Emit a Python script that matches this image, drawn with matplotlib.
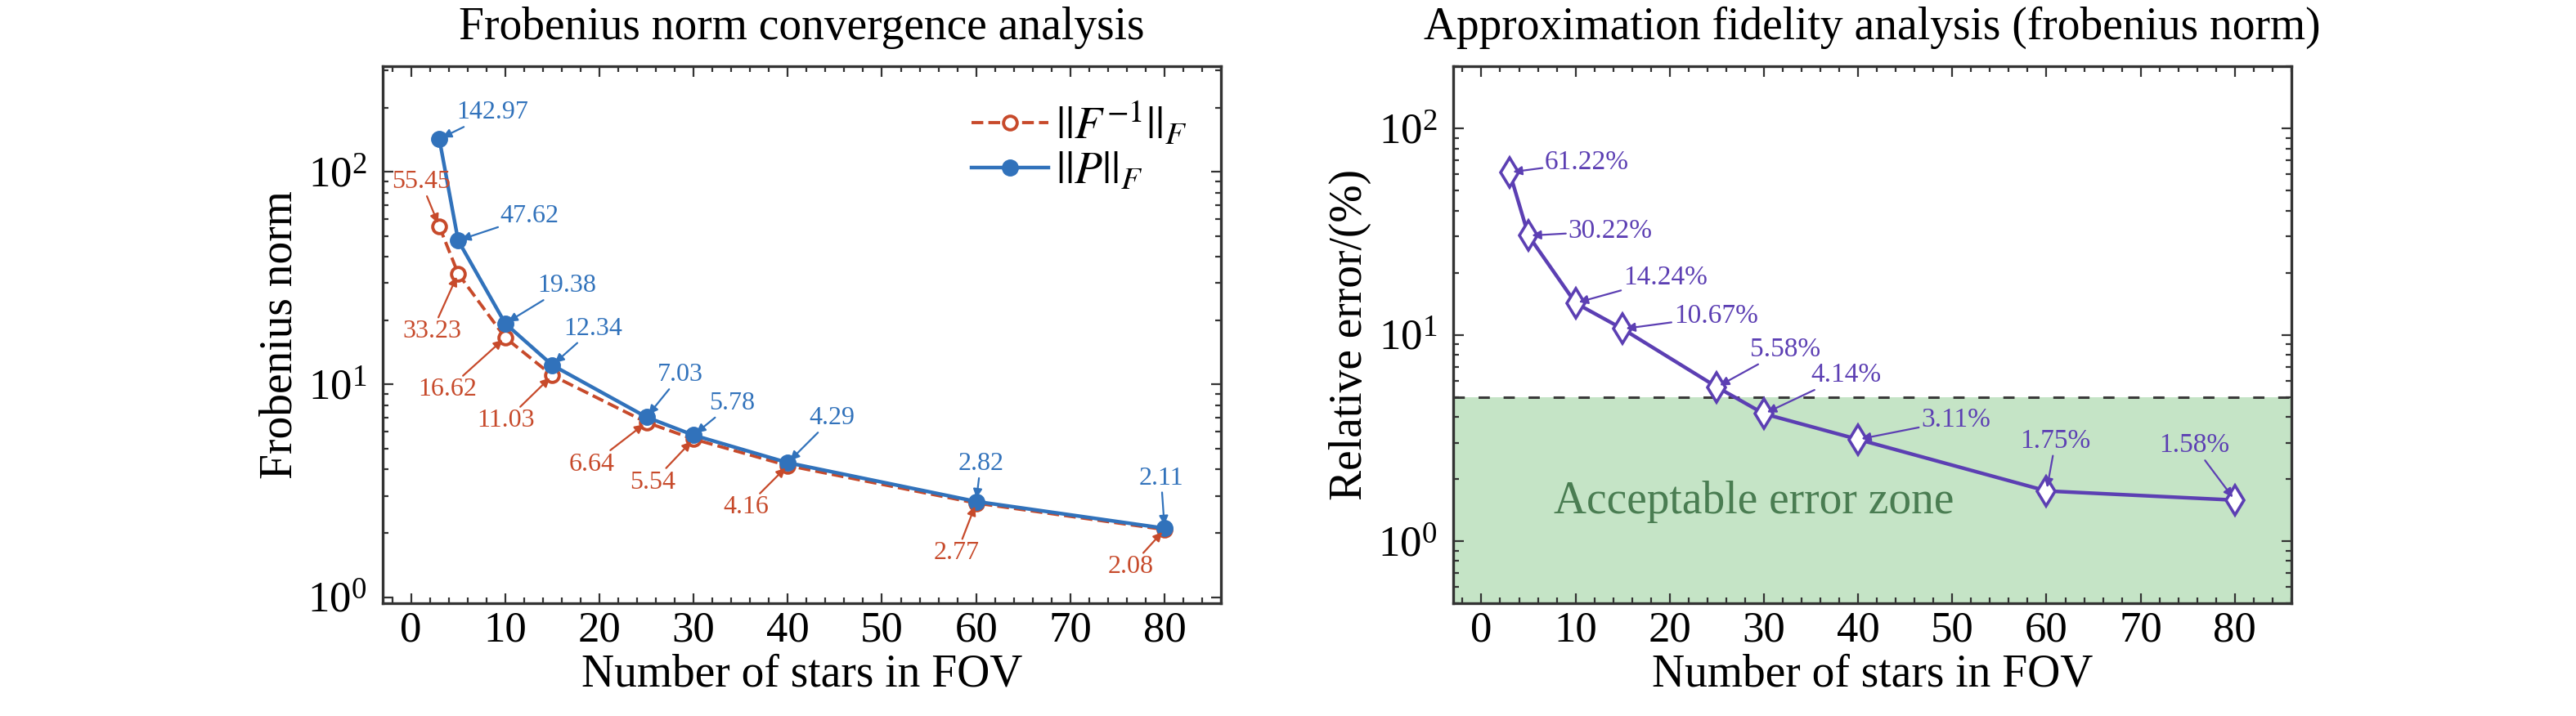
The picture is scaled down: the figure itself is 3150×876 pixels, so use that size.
import numpy as np
import matplotlib
matplotlib.use("Agg")
import matplotlib.pyplot as plt
from matplotlib.ticker import MultipleLocator, LogLocator, NullFormatter

plt.rcParams['font.family'] = ['Liberation Serif', 'DejaVu Serif']
plt.rcParams['mathtext.fontset'] = 'stix'

# data
stars = [3, 5, 10, 15, 25, 30, 40, 60, 80]
p_norm = [142.97, 47.62, 19.38, 12.34, 7.03, 5.78, 4.29, 2.82, 2.11]
finv_norm = [55.45, 33.23, 16.62, 11.03, 6.64, 5.54, 4.16, 2.77, 2.08]
rel_err = [61.22, 30.22, 14.24, 10.67, 5.58, 4.14, 3.11, 1.75, 1.58]
err_limit = 5.0

# label offsets (points) from each marker
p_offs = [(47, 23), (63, 21), (54, 33), (36, 32), (30, 37), (34, 28), (39, 39), (4, 33), (-3, 44)]
f_offs = [(-16, 39), (-23, -51), (-51, -46), (-41, -40), (-48, -37), (-36, -38), (-37, -37), (-17, -44), (-30, -33)]
e_offs = [(68, 9), (72, 4), (79, 22), (82, 11), (60, 33), (72, 34), (86, 17), (8, 44), (-36, 48)]

BLUE = '#3172bb'
RED = '#c74a2b'
PURPLE = '#5c3fb3'
SPINE = '#333333'


def style_axes(ax):
    for s in ax.spines.values():
        s.set_linewidth(2.4)
        s.set_color(SPINE)
    ax.xaxis.set_major_locator(MultipleLocator(10))
    ax.xaxis.set_minor_locator(MultipleLocator(2))
    ax.yaxis.set_minor_locator(LogLocator(base=10, subs=np.arange(2, 10)))
    ax.yaxis.set_minor_formatter(NullFormatter())
    ax.tick_params(which='both', direction='in', top=True, right=True,
                   width=1.6, color=SPINE, labelsize=38)
    ax.tick_params(which='major', length=9)
    ax.tick_params(which='minor', length=5)
    ax.tick_params(axis='x', pad=7)
    ax.tick_params(axis='y', pad=14)


fig = plt.figure(figsize=(31.5, 8.76), dpi=100)

# left panel
ax1 = fig.add_axes([0.1486, 0.1575, 0.3254, 0.75])
ax1.set_yscale('log')
ax1.plot(stars, finv_norm, '--', color=RED, lw=2.8, marker='o', ms=12,
         mfc='white', mec=RED, mew=2.8, label=r'$||F^{-1}||_F$', zorder=3)
ax1.plot(stars, p_norm, '-', color=BLUE, lw=3.2, marker='o', ms=14,
         mfc=BLUE, mec=BLUE, label=r'$||P||_F$', zorder=4)
for x, v, o in zip(stars, p_norm, p_offs):
    ax1.annotate(f'{v:.2f}', (x, v), xytext=o, textcoords='offset points',
                 ha='center', va='center', fontsize=23, color=BLUE, zorder=6,
                 arrowprops=dict(arrowstyle='-|>', color=BLUE, lw=1.6,
                                 mutation_scale=16, shrinkA=0, shrinkB=3))
for x, v, o in zip(stars, finv_norm, f_offs):
    ax1.annotate(f'{v:.2f}', (x, v), xytext=o, textcoords='offset points',
                 ha='center', va='center', fontsize=23, color=RED, zorder=6,
                 arrowprops=dict(arrowstyle='-|>', color=RED, lw=1.6,
                                 mutation_scale=16, shrinkA=0, shrinkB=3))
ax1.set_xlim(-3, 86)
ax1.set_ylim(0.937, 314)
style_axes(ax1)
ax1.set_title('Frobenius norm convergence analysis', fontsize=40, pad=24)
ax1.set_xlabel('Number of stars in FOV', fontsize=40, labelpad=3)
ax1.set_ylabel('Frobenius norm', fontsize=40, labelpad=6)
ax1.legend(loc='upper right', frameon=False, fontsize=40, handlelength=1.7,
           handletextpad=0.15, labelspacing=0.05, borderaxespad=0.35)

# right panel
ax2 = fig.add_axes([0.5641, 0.1575, 0.3254, 0.75])
ax2.set_yscale('log')
ax2.axhspan(0.5, err_limit, color='#c5e4c6', zorder=0, lw=0)
ax2.axhline(err_limit, color='#3a3a3a', lw=2.2, ls=(0, (4.5, 5.5)), zorder=1)
ax2.plot(stars, rel_err, '-', color=PURPLE, lw=3.2, marker='d', ms=18,
         mfc='white', mec=PURPLE, mew=2.6, zorder=4)
for x, v, o in zip(stars, rel_err, e_offs):
    ax2.annotate(f'{v:.2f}%', (x, v), xytext=o, textcoords='offset points',
                 ha='center', va='center', fontsize=24, color=PURPLE, zorder=6,
                 arrowprops=dict(arrowstyle='-|>', color=PURPLE, lw=1.6,
                                 mutation_scale=16, shrinkA=0, shrinkB=3))
ax2.text(28.9, 1.55, 'Acceptable error zone', fontsize=40, color='#4a7d52',
         ha='center', va='center', zorder=2)
ax2.set_xlim(-3, 86)
ax2.set_ylim(0.5, 200)
style_axes(ax2)
ax2.set_title('Approximation fidelity analysis (frobenius norm)', fontsize=40, pad=24)
ax2.set_xlabel('Number of stars in FOV', fontsize=40, labelpad=3)
ax2.set_ylabel('Relative error/(%)', fontsize=40, labelpad=6)

fig.savefig('out.png', dpi=100)
